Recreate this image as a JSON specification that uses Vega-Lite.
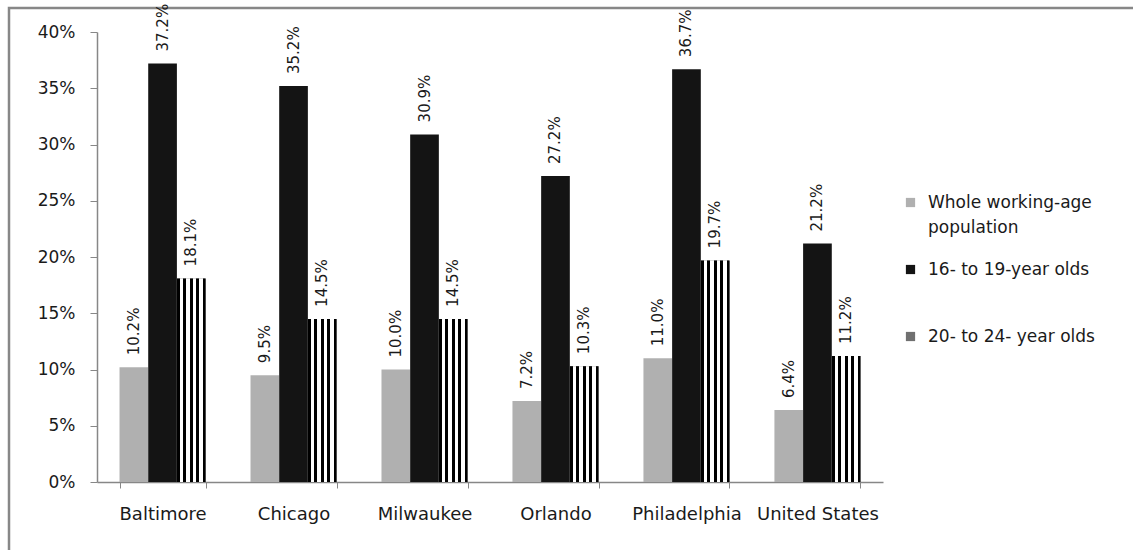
{
  "$schema": "https://vega.github.io/schema/vega-lite/v6.json",
  "width": 1130,
  "height": 545,
  "autosize": {"type": "none"},
  "padding": {"left": 9, "top": 8, "right": 0, "bottom": 0},
  "background": "white",
  "config": {
    "view": {"stroke": "#878787", "strokeWidth": 2.5},
    "font": "DejaVu Sans",
    "axis": {"domainColor": "#878787", "tickColor": "#878787", "labelColor": "#1a1a1a", "grid": false, "title": null}
  },
  "data": {
    "values": [
      {"city": "Baltimore", "group": "Whole working-age population", "value": 0.102},
      {"city": "Baltimore", "group": "16- to 19-year olds", "value": 0.372},
      {"city": "Baltimore", "group": "20- to 24- year olds", "value": 0.181},
      {"city": "Chicago", "group": "Whole working-age population", "value": 0.095},
      {"city": "Chicago", "group": "16- to 19-year olds", "value": 0.352},
      {"city": "Chicago", "group": "20- to 24- year olds", "value": 0.145},
      {"city": "Milwaukee", "group": "Whole working-age population", "value": 0.100},
      {"city": "Milwaukee", "group": "16- to 19-year olds", "value": 0.309},
      {"city": "Milwaukee", "group": "20- to 24- year olds", "value": 0.145},
      {"city": "Orlando", "group": "Whole working-age population", "value": 0.072},
      {"city": "Orlando", "group": "16- to 19-year olds", "value": 0.272},
      {"city": "Orlando", "group": "20- to 24- year olds", "value": 0.103},
      {"city": "Philadelphia", "group": "Whole working-age population", "value": 0.110},
      {"city": "Philadelphia", "group": "16- to 19-year olds", "value": 0.367},
      {"city": "Philadelphia", "group": "20- to 24- year olds", "value": 0.197},
      {"city": "United States", "group": "Whole working-age population", "value": 0.064},
      {"city": "United States", "group": "16- to 19-year olds", "value": 0.212},
      {"city": "United States", "group": "20- to 24- year olds", "value": 0.112}
    ]
  },
  "encoding": {
    "x": {
      "field": "city", "type": "nominal", "sort": null,
      "scale": {"range": [88, 874], "paddingInner": 0.343, "paddingOuter": 0.172},
      "axis": {"orient": "bottom", "offset": -71, "labelAngle": 0, "labelFontSize": 18, "labelPadding": 17, "tickSize": 6, "tickBand": "extent", "domainWidth": 1.5}
    },
    "xOffset": {
      "field": "group", "type": "nominal",
      "sort": ["Whole working-age population", "16- to 19-year olds", "20- to 24- year olds"],
      "scale": {"paddingInner": 0, "paddingOuter": 0}
    },
    "y": {
      "field": "value", "type": "quantitative",
      "scale": {"domain": [0, 0.4], "range": [474, 24], "nice": false},
      "axis": {"orient": "left", "offset": -88, "values": [0, 0.05, 0.1, 0.15, 0.2, 0.25, 0.3, 0.35, 0.4], "format": ".0%", "labelFontSize": 17, "labelPadding": 15, "tickSize": 7, "domainWidth": 1.5}
    }
  },
  "layer": [
    {
      "mark": {"type": "bar"},
      "encoding": {
        "color": {
          "field": "group", "type": "nominal",
          "sort": ["Whole working-age population", "16- to 19-year olds", "20- to 24- year olds"],
          "scale": {
            "domain": ["Whole working-age population", "16- to 19-year olds", "20- to 24- year olds"],
            "range": ["#b0b0b0", "#141414", "#707070"]
          },
          "legend": {
            "orient": "none", "legendX": 893, "legendY": 186, "title": null,
            "symbolType": "square", "symbolSize": 85, "symbolStrokeWidth": 0,
            "labelFontSize": 17, "labelColor": "#1a1a1a", "labelOffset": 9, "labelLimit": 300,
            "gridAlign": "all", "rowPadding": 24,
            "labelExpr": "datum.label == 'Whole working-age population' ? ['Whole working-age', 'population'] : datum.label",
            "encode": {
              "labels": {"update": {"lineHeight": {"value": 25}}},
              "symbols": {"update": {"fill": [
                {"test": "datum.value == '20- to 24- year olds'", "value": {"gradient": "linear", "x1": 0, "y1": 0, "x2": 1, "y2": 0, "stops": [
                  {"offset": 0, "color": "#000000"}, {"offset": 0.3, "color": "#000000"},
                  {"offset": 0.3, "color": "#ffffff"}, {"offset": 0.5, "color": "#ffffff"},
                  {"offset": 0.5, "color": "#000000"}, {"offset": 0.8, "color": "#000000"},
                  {"offset": 0.8, "color": "#ffffff"}, {"offset": 1, "color": "#ffffff"}
                ]}},
                {"scale": "color", "field": "value"}
              ]}}
            }
          }
        }
      }
    },
    {
      "transform": [{"filter": "datum.group == '20- to 24- year olds'"}],
      "mark": {
        "type": "bar",
        "color": {"gradient": "linear", "x1": 0, "y1": 0, "x2": 1, "y2": 0, "stops": [
          {"offset": 0, "color": "#000000"}, {"offset": 0.1, "color": "#000000"},
          {"offset": 0.1, "color": "#ffffff"}, {"offset": 0.225, "color": "#ffffff"},
          {"offset": 0.225, "color": "#000000"}, {"offset": 0.325, "color": "#000000"},
          {"offset": 0.325, "color": "#ffffff"}, {"offset": 0.45, "color": "#ffffff"},
          {"offset": 0.45, "color": "#000000"}, {"offset": 0.55, "color": "#000000"},
          {"offset": 0.55, "color": "#ffffff"}, {"offset": 0.675, "color": "#ffffff"},
          {"offset": 0.675, "color": "#000000"}, {"offset": 0.775, "color": "#000000"},
          {"offset": 0.775, "color": "#ffffff"}, {"offset": 0.9, "color": "#ffffff"},
          {"offset": 0.9, "color": "#000000"}, {"offset": 1, "color": "#000000"}
        ]}
      },
      "encoding": {}
    },
    {
      "mark": {"type": "text", "angle": 270, "align": "left", "baseline": "middle", "dx": 12, "fontSize": 15, "color": "#1a1a1a"},
      "encoding": {
        "text": {"field": "value", "type": "quantitative", "format": ".1%"}
      }
    }
  ]
}
